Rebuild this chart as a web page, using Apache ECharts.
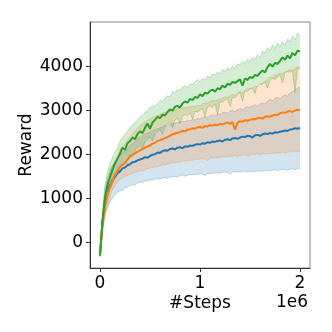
<!DOCTYPE html>
<html>
<head>
<meta charset="utf-8">
<script src="https://cdn.jsdelivr.net/npm/echarts@6/dist/echarts.min.js"></script>
<style>
  html, body { margin: 0; padding: 0; background: #fff; }
  #chart { width: 332px; height: 332px; }
</style>
</head>
<body>
<div id="chart"></div>
<script>
// steps: 0 .. 2e6, every 25k
const steps = []
for (let i = 0; i <= 80; i++) steps.push(i * 25000)

const xTicks = [0, 1000000, 2000000]
const yTicks = [0, 1000, 2000, 3000, 4000]

const blueMean = [-300, 450, 950, 1150, 1300, 1420, 1490, 1570, 1610, 1680, 1700, 1750, 1770, 1820, 1830, 1860, 1880, 1900, 1935, 1920,
  1960, 1990, 2000, 2040, 2030, 2070, 2090, 2080, 2120, 2130, 2110, 2150, 2160, 2140, 2180, 2170, 2200, 2190, 2215, 2230,
  2220, 2250, 2240, 2270, 2260, 2290, 2280, 2300, 2310, 2290, 2330, 2340, 2320, 2360, 2370, 2350, 2380, 2400, 2390, 2420,
  2410, 2380, 2430, 2440, 2420, 2450, 2470, 2460, 2480, 2470, 2500, 2490, 2510, 2520, 2540, 2530, 2560, 2570, 2590, 2580, 2600]
const blueLow = [-330, 300, 650, 800, 916, 1000, 1080, 1140, 1170, 1180, 1240, 1260, 1290, 1310, 1300, 1350, 1370, 1360, 1400, 1390,
  1420, 1410, 1440, 1450, 1430, 1460, 1470, 1450, 1490, 1480, 1500, 1490, 1510, 1530, 1500, 1520, 1540, 1530, 1550, 1540,
  1560, 1550, 1520, 1560, 1570, 1560, 1590, 1580, 1570, 1590, 1600, 1580, 1560, 1590, 1610, 1600, 1590, 1610, 1620, 1600,
  1610, 1620, 1600, 1630, 1620, 1610, 1640, 1630, 1620, 1640, 1650, 1630, 1640, 1660, 1650, 1640, 1660, 1670, 1650, 1680, 1670]
const blueHigh = [-280, 600, 1200, 1450, 1650, 1740, 1820, 1900, 1990, 2030, 2080, 2120, 2200, 2240, 2290, 2340, 2400, 2420, 2460, 2480,
  2500, 2530, 2560, 2580, 2600, 2620, 2650, 2640, 2680, 2690, 2700, 2730, 2720, 2750, 2740, 2770, 2760, 2790, 2780, 2810,
  2800, 2830, 2850, 2830, 2870, 2890, 2870, 2910, 2900, 2940, 2960, 2930, 2980, 3000, 2970, 3020, 3040, 3010, 3060, 3080,
  3060, 3100, 3120, 3090, 3150, 3170, 3140, 3200, 3250, 3210, 3270, 3290, 3260, 3320, 3350, 3320, 3390, 3420, 3460, 3500, 3530]

const orangeMean = [-250, 400, 800, 1100, 1250, 1400, 1530, 1620, 1720, 1760, 1800, 1880, 1950, 1990, 2020, 2060, 2090, 2120, 2150, 2180,
  2200, 2240, 2260, 2300, 2320, 2340, 2370, 2390, 2420, 2450, 2470, 2490, 2500, 2530, 2520, 2560, 2570, 2590, 2580, 2610,
  2620, 2600, 2640, 2630, 2660, 2650, 2670, 2660, 2690, 2680, 2700, 2720, 2690, 2730, 2560, 2720, 2750, 2740, 2770, 2760,
  2780, 2800, 2790, 2820, 2830, 2810, 2850, 2860, 2850, 2880, 2900, 2890, 2930, 2950, 2940, 2970, 2980, 2960, 2990, 3010, 3000]
const orangeLow = [-300, 250, 600, 800, 1050, 1200, 1290, 1370, 1430, 1470, 1500, 1520, 1550, 1570, 1580, 1610, 1630, 1620, 1660, 1670,
  1690, 1700, 1720, 1710, 1740, 1760, 1750, 1780, 1790, 1810, 1800, 1830, 1820, 1850, 1840, 1860, 1870, 1860, 1890, 1880,
  1900, 1890, 1910, 1850, 1920, 1910, 1930, 1920, 1940, 1930, 1950, 1940, 1960, 1950, 1970, 1950, 1980, 1970, 1990, 1960,
  1980, 2000, 1990, 2010, 1990, 2010, 2000, 2020, 2010, 2030, 2020, 2040, 2030, 2050, 2030, 2040, 2060, 2050, 2070, 2060, 2050]
const orangeHigh = [-200, 600, 1100, 1380, 1600, 1740, 1850, 1980, 2100, 2170, 2240, 2320, 2400, 2470, 2520, 2590, 2650, 2690, 2730, 2770,
  2800, 2830, 2860, 2880, 2900, 2930, 2950, 2960, 2980, 3000, 3010, 3030, 3040, 3060, 3050, 3080, 3070, 3100, 3090, 3110,
  3100, 3140, 3170, 3160, 3200, 3220, 3210, 3240, 3250, 3280, 3300, 3290, 3330, 3360, 3340, 3390, 3420, 3400, 3450, 3480,
  3500, 3520, 3550, 3540, 3590, 3620, 3660, 3700, 3750, 3740, 3790, 3810, 3840, 3830, 3870, 3890, 3920, 3900, 3950, 3980, 3970]

const greenMean = [-300, 500, 1000, 1300, 1480, 1650, 1790, 1900, 2010, 2150, 2100, 2250, 2300, 2380, 2340, 2460, 2520, 2480, 2600, 2700,
  2580, 2720, 2780, 2850, 2820, 2900, 2880, 2960, 3020, 2990, 3080, 3100, 3060, 3150, 3200, 3170, 3260, 3230, 3300, 3280,
  3360, 3320, 3400, 3380, 3440, 3470, 3420, 3500, 3480, 3560, 3520, 3600, 3580, 3640, 3620, 3660, 3700, 3560, 3720, 3690,
  3760, 3730, 3800, 3780, 3850, 3900, 3860, 3980, 4050, 3990, 4080, 4050, 4120, 4200, 4150, 4240, 4180, 4300, 4250, 4350, 4330]
const greenLow = [-330, 300, 800, 1000, 1200, 1320, 1450, 1560, 1700, 1760, 1820, 1900, 2000, 1950, 2080, 2150, 2200, 2120, 2280, 2330,
  2400, 2300, 2470, 2520, 2560, 2450, 2650, 2680, 2720, 2600, 2780, 2820, 2700, 2860, 2900, 2880, 2940, 2800, 2980, 2960,
  3000, 3040, 2850, 3080, 3100, 3060, 3140, 2900, 3200, 3180, 3230, 3260, 3080, 3300, 3280, 3350, 3400, 3200, 3450, 3420,
  3480, 3500, 3380, 3560, 3600, 3580, 3640, 3500, 3680, 3720, 3700, 3760, 3800, 3620, 3850, 3880, 3860, 3900, 3400, 3950, 3960]
const greenHigh = [-280, 700, 1300, 1580, 1800, 1920, 2050, 2150, 2300, 2380, 2450, 2520, 2600, 2660, 2720, 2780, 2850, 2880, 2950, 3000,
  3050, 3100, 3080, 3160, 3220, 3200, 3280, 3330, 3300, 3420, 3400, 3470, 3440, 3520, 3560, 3510, 3600, 3580, 3650, 3700,
  3650, 3720, 3690, 3780, 3740, 3820, 3800, 3870, 3830, 3920, 3880, 3960, 3920, 4000, 3950, 4060, 4020, 4110, 4060, 4150,
  4100, 4200, 4150, 4260, 4200, 4340, 4300, 4420, 4360, 4480, 4400, 4520, 4450, 4560, 4480, 4620, 4550, 4680, 4600, 4750, 4700]

const runs = [
  {name: 'blue', color: '#1f77b4', mean: blueMean, low: blueLow, high: blueHigh},
  {name: 'orange', color: '#ff7f0e', mean: orangeMean, low: orangeLow, high: orangeHigh},
  {name: 'green', color: '#2ca02c', mean: greenMean, low: greenLow, high: greenHigh}
]

const font = 'DejaVu Sans'
const pairs = (ys) => steps.map((x, i) => [x, ys[i]])

// shaded band between low and high, drawn once through the grid's coords
function bandSeries(r) {
  return {
    type: 'custom', silent: true, animation: false, clip: true,
    data: [[steps[0], r.low[0]]],
    renderItem: (params, api) => {
      let lo = steps.map((x, i) => api.coord([x, r.low[i]]))
      let hi = steps.map((x, i) => api.coord([x, r.high[i]]))
      let poly = lo.concat(hi.slice().reverse())
      return {
        type: 'group',
        children: [
          {type: 'polygon', shape: {points: poly}, style: {fill: r.color, opacity: 0.2}},
          {type: 'polyline', shape: {points: lo}, style: {stroke: r.color, fill: null, lineWidth: 0.8, opacity: 0.35}},
          {type: 'polyline', shape: {points: hi}, style: {stroke: r.color, fill: null, lineWidth: 0.8, opacity: 0.35}}
        ]
      }
    }
  }
}

let series = []
runs.forEach(r => series.push(bandSeries(r)))
runs.forEach(r => {
  series.push({
    type: 'line', data: pairs(r.mean), symbol: 'none', silent: true, animation: false,
    lineStyle: {color: r.color, width: 2}
  })
})

let chart = echarts.init(document.getElementById('chart'), null, {renderer: 'canvas'})
chart.setOption({
  animation: false,
  grid: {left: 90, right: 22, top: 22, bottom: 64, show: true, borderColor: '#888', borderWidth: 1, backgroundColor: 'transparent'},
  xAxis: {
    type: 'value', min: -100000, max: 2100000,
    splitLine: {show: false},
    axisLine: {show: true, onZero: false, lineStyle: {color: '#333', width: 1}},
    axisTick: {show: true, length: 4, customValues: xTicks, lineStyle: {color: '#333'}},
    axisLabel: {customValues: xTicks, margin: 7, fontFamily: font, fontSize: 17, color: '#000',
      formatter: v => String(v / 1000000)}
  },
  yAxis: {
    type: 'value', min: -584, max: 5004,
    splitLine: {show: false},
    axisLine: {show: true, onZero: false, lineStyle: {color: '#333', width: 1}},
    axisTick: {show: true, length: 4, customValues: yTicks, lineStyle: {color: '#333'}},
    axisLabel: {customValues: yTicks, margin: 7, fontFamily: font, fontSize: 17, color: '#000',
      formatter: v => String(v)}
  },
  graphic: [
    {type: 'text', x: 27, y: 145, rotation: Math.PI / 2,
      style: {text: 'Reward', font: '17px "DejaVu Sans"', fill: '#000', align: 'center', verticalAlign: 'middle'}},
    {type: 'text', x: 200, y: 304,
      style: {text: '#Steps', font: '17px "DejaVu Sans"', fill: '#000', align: 'center', verticalAlign: 'middle'}},
    {type: 'text', x: 292, y: 303,
      style: {text: '1e6', font: '17px "DejaVu Sans"', fill: '#000', align: 'center', verticalAlign: 'middle'}}
  ],
  series: series
})
</script>
</body>
</html>
